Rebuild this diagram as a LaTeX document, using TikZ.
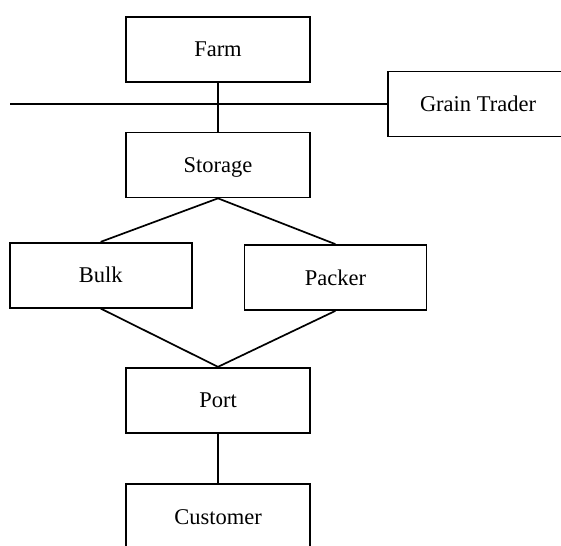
\documentclass[tikz,border=0pt]{standalone}
\usepackage{fontspec}
\setmainfont{Liberation Serif}
\usepackage{tikz}
\newcommand{\linecolor}{black}
\newcommand{\thickness}{1.7pt}
\newcommand{\boxheight}{65pt}

\begin{document}
\begin{tikzpicture}[x=1pt,y=-1pt,
  stage/.style={draw=\linecolor, line width=\thickness, minimum height=\boxheight, inner sep=0pt,
    text height=15pt, text depth=0pt, font=\fontsize{22.5}{27}\selectfont}]
\clip (0,0) rectangle (561,545);
\node[stage, minimum width=184pt] (farm) at (218, 49.4) {Farm};
\node[stage, minimum width=184pt] (storage) at (218, 165) {Storage};
\node[stage, minimum width=180pt] (trader) at (478, 104) {Grain Trader};
\node[stage, minimum width=182pt] (bulk) at (100.7, 275.2) {Bulk};
\node[stage, minimum width=182pt] (packer) at (335.4, 277.5) {Packer};
\node[stage, minimum width=184pt] (port) at (218, 400.2) {Port};
\node[stage, minimum width=184pt] (customer) at (218, 516.8) {Customer};
\coordinate (left) at (10, 104);
%links
\draw[\linecolor] [line width=\thickness] (left) -- (trader.west);
\draw[\linecolor] [line width=\thickness] (farm.south) -- (storage.north);
\draw[\linecolor] [line width=\thickness] (storage.south) -- (bulk.north);
\draw[\linecolor] [line width=\thickness] (storage.south) -- (packer.north);
\draw[\linecolor] [line width=\thickness] (bulk.south) -- (port.north);
\draw[\linecolor] [line width=\thickness] (packer.south) -- (port.north);
\draw[\linecolor] [line width=\thickness] (port.south) -- (customer.north);
\end{tikzpicture}
\end{document}
